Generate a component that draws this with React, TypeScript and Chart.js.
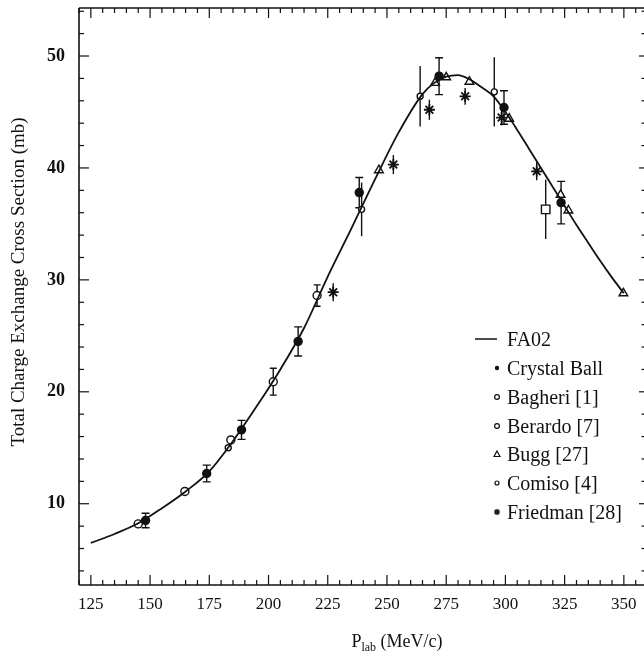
import React, { useEffect, useRef } from 'react';
import { Chart, registerables } from 'chart.js';

Chart.register(...registerables);

const INK = '#111111';
const SERIF = '"Liberation Serif", "Times New Roman", serif';

// FA02 model curve
const curveX = [125, 135, 145, 155, 165, 175, 185, 195, 205, 215, 225, 235, 245, 255, 265, 270, 275, 280, 285, 290, 295, 300, 305, 310, 315, 320, 325, 330, 335, 340, 345, 350];
const curveY = [6.5, 7.3, 8.25, 9.6, 11.1, 12.9, 15.6, 18.7, 22.0, 25.7, 30.3, 34.6, 39.0, 43.2, 46.6, 47.6, 48.15, 48.3, 47.9, 47.2, 46.4, 45.0, 43.4, 41.7, 40.0, 38.3, 36.6, 34.9, 33.3, 31.7, 30.2, 28.8];

// Crystal Ball
const crystalX = [148.1, 173.9, 188.6, 212.5, 238.3, 272, 299.4, 323.5];
const crystalY = [8.5, 12.7, 16.6, 24.5, 37.8, 48.2, 45.4, 36.9];
const crystalErr = [0.65, 0.75, 0.85, 1.3, 1.35, 1.65, 1.5, 1.9];

// Bagheri [1]
const bagheriX = [145, 164.7, 184.1, 202, 220.5];
const bagheriY = [8.2, 11.1, 15.7, 20.9, 28.6];
const bagheriErr = [0, 0, 0, 1.2, 0.95];

// Berardo [7]
const berardoX = [317];
const berardoY = [36.3];
const berardoErr = [2.65];

// Bugg [27]
const buggX = [246.6, 270.3, 275, 284.8, 301.6, 323.3, 326.6, 349.8];
const buggY = [39.8, 47.6, 48.1, 47.7, 44.4, 37.6, 36.2, 28.8];
const buggErr = [0, 0, 0, 0, 0, 0, 0, 0];

// Comiso [4]
const comisoX = [183, 239.3, 264, 295.3];
const comisoY = [15.0, 36.3, 46.4, 46.8];
const comisoErr = [0, 2.4, 2.7, 3.1];

// Friedman [28]
const friedmanX = [227.3, 252.7, 267.9, 283, 298.4, 313.2];
const friedmanY = [28.9, 40.3, 45.2, 46.4, 44.5, 39.7];
const friedmanErr = [0.8, 0.85, 0.9, 0.75, 0.7, 0.8];

const seriesNames = ['FA02', 'Crystal Ball', 'Bagheri [1]', 'Berardo [7]', 'Bugg [27]', 'Comiso [4]', 'Friedman [28]'];

const xTickValues = [125, 150, 175, 200, 225, 250, 275, 300, 325, 350];
const yTickValues = [10, 20, 30, 40, 50];

const xTitleMain = 'P';
const xTitleSub = 'lab';
const xTitleRest = ' (MeV/c)';
const yTitle = 'Total Charge Exchange Cross Section (mb)';

const pts = (xs: number[], ys: number[]) => xs.map((x, i) => ({ x, y: ys[i] }));

const errorBarPlugin = {
  id: 'errorBars',
  beforeDatasetsDraw(chart: any) {
    const { ctx } = chart;
    const yScale = chart.scales.y;
    ctx.save();
    ctx.strokeStyle = INK;
    ctx.lineWidth = 1.4;
    chart.data.datasets.forEach((ds: any, i: number) => {
      if (!ds.errors) return;
      const meta = chart.getDatasetMeta(i);
      meta.data.forEach((el: any, j: number) => {
        const e = ds.errors[j];
        if (!e) return;
        const v = ds.data[j].y;
        const yt = yScale.getPixelForValue(v + e);
        const yb = yScale.getPixelForValue(v - e);
        ctx.beginPath();
        ctx.moveTo(el.x, yt);
        ctx.lineTo(el.x, yb);
        if (ds.errorCap) {
          const c = ds.errorCap / 2;
          ctx.moveTo(el.x - c, yt);
          ctx.lineTo(el.x + c, yt);
          ctx.moveTo(el.x - c, yb);
          ctx.lineTo(el.x + c, yb);
        }
        ctx.stroke();
      });
    });
    ctx.restore();
  },
};

const framePlugin = {
  id: 'frame',
  afterDraw(chart: any) {
    const { ctx, chartArea: a } = chart;
    const x = chart.scales.x;
    const y = chart.scales.y;
    const seg = (x1: number, y1: number, x2: number, y2: number) => {
      ctx.beginPath();
      ctx.moveTo(x1, y1);
      ctx.lineTo(x2, y2);
      ctx.stroke();
    };
    ctx.save();
    ctx.strokeStyle = INK;
    ctx.lineWidth = 1.6;
    seg(a.left, a.top, a.right, a.top);
    seg(a.left, a.top, a.left, a.bottom);
    seg(a.left, a.bottom, a.right, a.bottom);

    ctx.lineWidth = 1.2;
    for (let v = 120; v <= x.max; v += 5) {
      const px = x.getPixelForValue(v);
      const major = v % 25 === 0;
      const len = major ? 10 : 5;
      seg(px, a.bottom, px, a.bottom - len);
      seg(px, a.top, px, a.top + len);
    }
    for (let v = 4; v <= y.max; v += 2) {
      const py = y.getPixelForValue(v);
      const major = v % 10 === 0;
      seg(a.left, py, a.left + (major ? 10 : 5), py);
      seg(a.right, py, a.right - (major ? 5 : 2.5), py);
    }

    // axis titles
    ctx.fillStyle = INK;
    ctx.textBaseline = 'alphabetic';
    ctx.font = `18px ${SERIF}`;
    const w1 = ctx.measureText(xTitleMain).width;
    const w3 = ctx.measureText(xTitleRest).width;
    ctx.font = `12px ${SERIF}`;
    const w2 = ctx.measureText(xTitleSub).width;
    const total = w1 + w2 + w3;
    let tx = 397 - total / 2;
    const base = 647;
    ctx.font = `18px ${SERIF}`;
    ctx.textAlign = 'left';
    ctx.fillText(xTitleMain, tx, base);
    tx += w1;
    ctx.font = `12px ${SERIF}`;
    ctx.fillText(xTitleSub, tx, base + 4);
    tx += w2;
    ctx.font = `18px ${SERIF}`;
    ctx.fillText(xTitleRest, tx, base);

    ctx.save();
    ctx.translate(19, 282);
    ctx.rotate(-Math.PI / 2);
    ctx.textAlign = 'center';
    ctx.textBaseline = 'middle';
    ctx.font = `19px ${SERIF}`;
    ctx.fillText(yTitle, 0, 0);
    ctx.restore();

    // legend
    const rows = [339, 368, 397, 426, 454, 483, 512];
    const mx = 497;
    const textX = 507;
    ctx.font = `20px ${SERIF}`;
    ctx.textAlign = 'left';
    ctx.textBaseline = 'alphabetic';
    seriesNames.forEach((name, i) => {
      const cy = rows[i];
      ctx.fillStyle = INK;
      ctx.fillText(name, textX, cy + 7);
      ctx.lineWidth = 1.2;
      ctx.strokeStyle = INK;
      if (i === 0) {
        ctx.lineWidth = 1.5;
        seg(475, cy, 497, cy);
      } else if (i === 1) {
        ctx.beginPath();
        ctx.arc(mx, cy, 2.2, 0, Math.PI * 2);
        ctx.fill();
      } else if (i === 2 || i === 3 || i === 5) {
        ctx.beginPath();
        ctx.arc(mx, cy, i === 5 ? 2 : 2.4, 0, Math.PI * 2);
        ctx.fillStyle = '#fff';
        ctx.fill();
        ctx.stroke();
      } else if (i === 4) {
        ctx.beginPath();
        ctx.moveTo(mx, cy - 3);
        ctx.lineTo(mx + 3, cy + 2.5);
        ctx.lineTo(mx - 3, cy + 2.5);
        ctx.closePath();
        ctx.stroke();
      } else if (i === 6) {
        ctx.lineWidth = 1.4;
        seg(mx, cy - 3, mx, cy + 3);
        seg(mx - 3, cy, mx + 3, cy);
        seg(mx - 2.2, cy - 2.2, mx + 2.2, cy + 2.2);
        seg(mx - 2.2, cy + 2.2, mx + 2.2, cy - 2.2);
      }
    });
    ctx.restore();
  },
};

const whiteBg = {
  id: 'whiteBg',
  beforeDraw(chart: any) {
    const { ctx, width, height } = chart;
    ctx.save();
    ctx.fillStyle = '#ffffff';
    ctx.fillRect(0, 0, width, height);
    ctx.restore();
  },
};

export default function App() {
  const ref = useRef<HTMLCanvasElement | null>(null);

  useEffect(() => {
    if (!ref.current) return;
    const scatterBase = {
      type: 'scatter' as const,
      showLine: false,
      borderColor: INK,
      pointBorderColor: INK,
      pointBorderWidth: 1.4,
    };
    const chart = new Chart(ref.current, {
      type: 'scatter',
      data: {
        datasets: [
          {
            type: 'line',
            label: seriesNames[0],
            data: pts(curveX, curveY),
            borderColor: INK,
            borderWidth: 1.8,
            pointRadius: 0,
            tension: 0.4,
            cubicInterpolationMode: 'monotone',
            fill: false,
          } as any,
          {
            ...scatterBase,
            label: seriesNames[1],
            data: pts(crystalX, crystalY),
            errors: crystalErr,
            errorCap: 8,
            pointStyle: 'circle',
            pointRadius: 4,
            pointBackgroundColor: INK,
          } as any,
          {
            ...scatterBase,
            label: seriesNames[2],
            data: pts(bagheriX, bagheriY),
            errors: bagheriErr,
            errorCap: 7,
            pointStyle: 'circle',
            pointRadius: 4,
            pointBackgroundColor: '#ffffff',
          } as any,
          {
            ...scatterBase,
            label: seriesNames[3],
            data: pts(berardoX, berardoY),
            errors: berardoErr,
            errorCap: 0,
            pointStyle: 'rect',
            pointRadius: 6,
            pointBackgroundColor: '#ffffff',
          } as any,
          {
            ...scatterBase,
            label: seriesNames[4],
            data: pts(buggX, buggY),
            errors: buggErr,
            pointStyle: 'triangle',
            pointRadius: 5,
            pointBackgroundColor: '#ffffff',
          } as any,
          {
            ...scatterBase,
            label: seriesNames[5],
            data: pts(comisoX, comisoY),
            errors: comisoErr,
            errorCap: 0,
            pointStyle: 'circle',
            pointRadius: 3,
            pointBackgroundColor: '#ffffff',
          } as any,
          {
            ...scatterBase,
            label: seriesNames[6],
            data: pts(friedmanX, friedmanY),
            errors: friedmanErr,
            errorCap: 0,
            pointStyle: 'star',
            pointRadius: 5.5,
            pointBorderWidth: 1.8,
            pointBackgroundColor: INK,
          } as any,
        ],
      },
      options: {
        animation: false,
        responsive: false,
        devicePixelRatio: 1,
        events: [],
        layout: { padding: { top: 8, left: 0, right: 0, bottom: 0 }, autoPadding: false },
        plugins: {
          legend: { display: false },
          tooltip: { enabled: false },
          title: { display: false },
        },
        scales: {
          x: {
            type: 'linear',
            min: 120,
            max: 358.5,
            grid: { display: false, drawTicks: false },
            border: { display: false },
            afterBuildTicks: (axis: any) => {
              axis.ticks = xTickValues.map((v) => ({ value: v }));
            },
            afterFit: (axis: any) => {
              axis.height = 70;
              axis.paddingLeft = 0;
              axis.paddingRight = 0;
              axis.paddingTop = 0;
              axis.paddingBottom = 0;
            },
            ticks: {
              color: INK,
              padding: 9,
              maxRotation: 0,
              autoSkip: false,
              font: { family: SERIF, size: 17 },
            },
          },
          y: {
            type: 'linear',
            min: 2.74,
            max: 54.29,
            grid: { display: false, drawTicks: false },
            border: { display: false },
            afterBuildTicks: (axis: any) => {
              axis.ticks = yTickValues.map((v) => ({ value: v }));
            },
            afterFit: (axis: any) => {
              axis.width = 79;
              axis.paddingLeft = 0;
              axis.paddingRight = 0;
              axis.paddingTop = 0;
              axis.paddingBottom = 0;
            },
            ticks: {
              color: INK,
              padding: 14,
              font: { family: SERIF, size: 18, weight: 'bold' },
            },
          },
        },
      } as any,
      plugins: [whiteBg, errorBarPlugin, framePlugin],
    });
    return () => chart.destroy();
  }, []);

  return (
    <div style={{ position: 'absolute', left: 0, top: 0, width: 644, height: 655, background: '#fff' }}>
      <canvas ref={ref} width={644} height={655} style={{ width: 644, height: 655, display: 'block' }} />
    </div>
  );
}
